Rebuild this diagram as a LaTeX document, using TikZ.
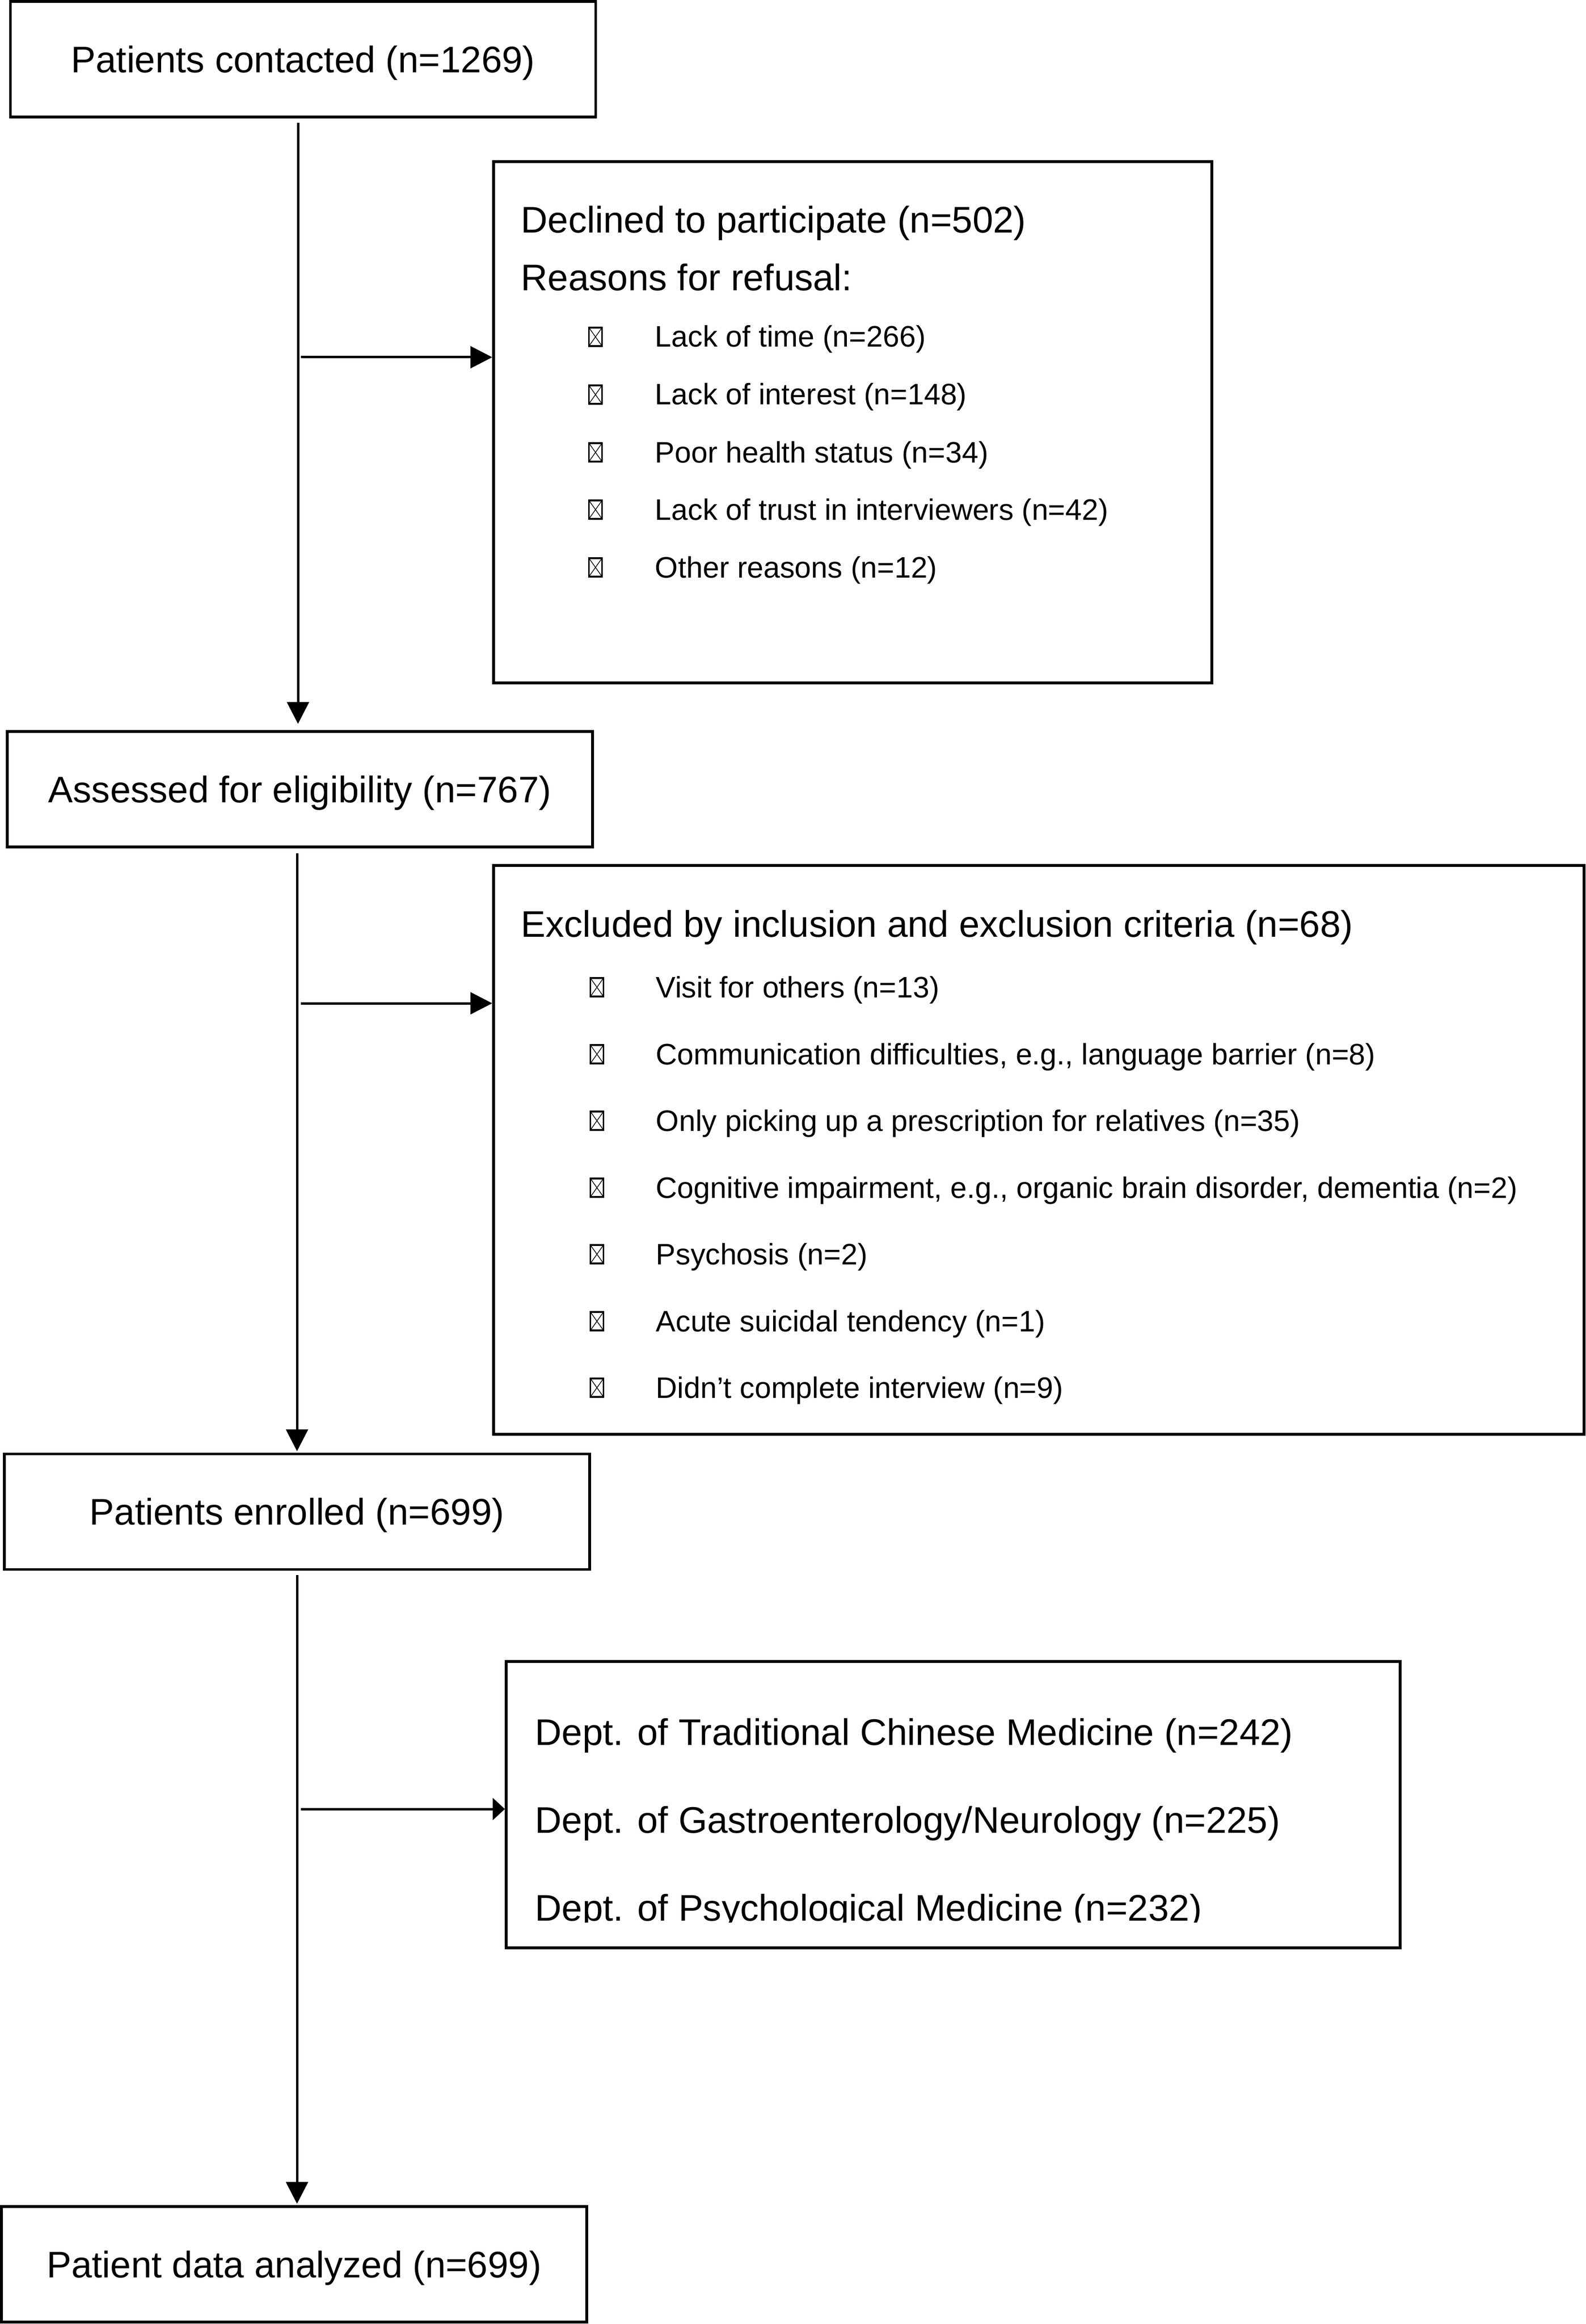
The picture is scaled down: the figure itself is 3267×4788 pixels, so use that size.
\documentclass[tikz,border=0pt]{standalone}
\usepackage{fontspec}
\setmainfont{Liberation Sans}
\usetikzlibrary{fit,arrows.meta}
\begin{document}
\begin{tikzpicture}[x=0.24pt,y=-0.24pt,
  box/.style={draw, line width=1.3pt, inner sep=0pt},
  bigtext/.style={font=\fontsize{18.3pt}{22pt}\selectfont},
  capalign/.style={text height=13.1pt, text depth=0pt},
  mainbox/.style={box, bigtext, capalign, minimum width=289.44pt, minimum height=57.12pt},
  smalltext/.style={font=\fontsize{14.64pt}{18pt}\selectfont, inner sep=0pt, anchor=base west},
  titletext/.style={bigtext, inner sep=0pt, anchor=base west},
  arr/.style={line width=1.2pt, -{Triangle[length=10.8pt,width=10.8pt]}},
  arrshort/.style={line width=1.2pt, -{Triangle[length=6pt,width=10.8pt]}},
  xglyph/.pic={\draw[line width=0.8pt] (1.5,-2) rectangle (28.5,-40);
     \draw[line width=0.35pt] (1.5,-2) -- (28.5,-40) (28.5,-2) -- (1.5,-40);}
]
\useasboundingbox (0,0) rectangle (3267,4788);

% main boxes
\node[mainbox] (contact) at (624.5,122) {Patients contacted (n=1269)};
\node[mainbox] (assess) at (618,1626) {Assessed for eligibility (n=767)};
\node[mainbox] (enrolled) at (612,3114.5) {Patients enrolled (n=699)};
\node[mainbox] (analyzed) at (606,4665) {Patient data analyzed (n=699)};

% side boxes (corner coordinates)
\coordinate (c3a) at (1017,333); \coordinate (c3b) at (2497,1407);
\coordinate (c5a) at (1017,1783);\coordinate (c5b) at (3264,2955);
\coordinate (c7a) at (1043,3423);\coordinate (c7b) at (2885,4013);
\node[box, fit=(c3a)(c3b)] (declined) {};
\node[box, fit=(c5a)(c5b)] (excluded) {};
\node[box, fit=(c7a)(c7b)] (dept) {};

% declined box contents
\node[titletext] (dtitle) at (1073,480) {Declined to participate (n=502)};
\node[titletext] (dreason) at (1073,599) {Reasons for refusal:};
\pic at (1212,715) {xglyph};
\node[smalltext] (d1) at (1349,715) {Lack of time (n=266)};
\pic at (1212,834) {xglyph};
\node[smalltext] (d2) at (1349,834) {Lack of interest (n=148)};
\pic at (1212,953) {xglyph};
\node[smalltext] (d3) at (1349,953) {Poor health status (n=34)};
\pic at (1212,1071) {xglyph};
\node[smalltext] (d4) at (1349,1071) {Lack of trust in interviewers (n=42)};
\pic at (1212,1190) {xglyph};
\node[smalltext] (d5) at (1349,1190) {Other reasons (n=12)};

% excluded box contents
\node[titletext] (etitle) at (1073,1930) {Excluded by inclusion and exclusion criteria (n=68)};
\pic at (1215,2055) {xglyph};
\node[smalltext] (e1) at (1351,2055) {Visit for others (n=13)};
\pic at (1215,2193) {xglyph};
\node[smalltext] (e2) at (1351,2193) {Communication difficulties, e.g., language barrier (n=8)};
\pic at (1215,2330) {xglyph};
\node[smalltext] (e3) at (1351,2330) {Only picking up a prescription for relatives (n=35)};
\pic at (1215,2468) {xglyph};
\node[smalltext] (e4) at (1351,2468) {Cognitive impairment, e.g., organic brain disorder, dementia (n=2)};
\pic at (1215,2605) {xglyph};
\node[smalltext] (e5) at (1351,2605) {Psychosis (n=2)};
\pic at (1215,2743) {xglyph};
\node[smalltext] (e6) at (1351,2743) {Acute suicidal tendency (n=1)};
\pic at (1215,2880) {xglyph};
\node[smalltext] (e7) at (1351,2880) {Didn’t complete interview (n=9)};

% department box contents
\node[titletext] (dept1) at (1102,3595) {Dept. of Traditional Chinese Medicine (n=242)};
\node[titletext] (dept2) at (1102,3776) {Dept. of Gastroenterology/Neurology (n=225)};
\begin{scope}
  \clip (1044,3423) rectangle (2885,3960);
  \node[titletext] (dept3) at (1102,3957) {Dept. of Psychological Medicine (n=232)};
\end{scope}

% spine connectors
\coordinate (s1) at (614,0);
\coordinate (s2) at (612,0);
\draw[arr, shorten <=2.2pt, shorten >=3.1pt] (s1 |- contact.south) -- (s1 |- assess.north);
\draw[arr, shorten <=2.4pt, shorten >=0.7pt] (s2 |- assess.south) -- (s2 |- enrolled.north);
\draw[arr, shorten <=2.2pt, shorten >=0.7pt] (s2 |- enrolled.south) -- (s2 |- analyzed.north);

% side connectors
\coordinate (h1) at (620,736);
\coordinate (h2) at (620,2067);
\coordinate (h3) at (620,3727);
\draw[arr] (h1) -- (h1 -| declined.west);
\draw[arr] (h2) -- (h2 -| excluded.west);
\draw[arrshort] (h3) -- (h3 -| dept.west);
\end{tikzpicture}
\end{document}
